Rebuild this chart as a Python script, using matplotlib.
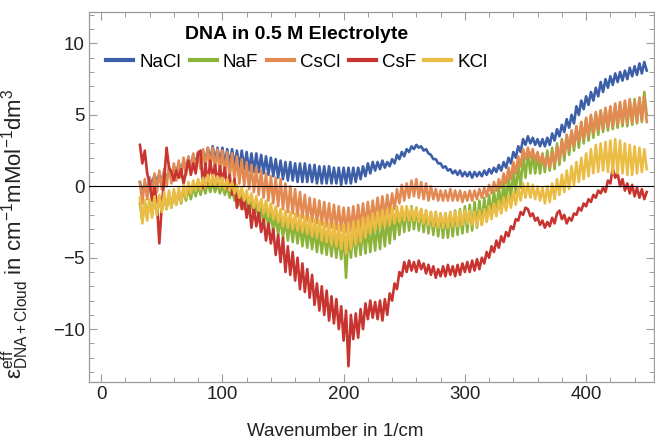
import numpy as np
import matplotlib
matplotlib.use("Agg")
import matplotlib.pyplot as plt
from matplotlib.ticker import MultipleLocator

plt.rcParams['font.family'] = ['Liberation Sans', 'DejaVu Sans']
plt.rcParams['mathtext.fontset'] = 'custom'
plt.rcParams['mathtext.rm'] = 'Liberation Sans'
plt.rcParams['mathtext.it'] = 'Liberation Sans:italic'

# wavenumber grid (1/cm)
wavenumber = np.arange(32, 451, 2)

nacl = [
    0.3, -0.5, 0.2, -0.4, 0.6, 0.1, 0.8, 0.3, 0.9, 0.4,
    1.0, 0.5, 1.2, 0.7, 1.4, 0.9, 1.6, 1.0, 1.8, 1.2,
    2.0, 1.3, 2.2, 1.5, 2.4, 1.6, 2.5, 1.7, 2.7, 1.8,
    2.8, 1.7, 2.7, 1.6, 2.7, 1.5, 2.6, 1.5, 2.6, 1.4,
    2.5, 1.3, 2.5, 1.2, 2.4, 1.1, 2.3, 1.0, 2.3, 1.0,
    2.2, 0.9, 2.1, 0.8, 2.0, 0.7, 1.9, 0.6, 1.8, 0.5,
    1.7, 0.4, 1.7, 0.4, 1.6, 0.3, 1.6, 0.3, 1.6, 0.3,
    1.5, 0.3, 1.5, 0.2, 1.4, 0.2, 1.4, 0.2, 1.4, 0.2,
    1.3, 0.2, 1.3, 0.1, 1.3, 0.2, 1.3, 0.2, 1.3, 0.3,
    1.3, 0.5, 1.4, 0.7, 1.6, 0.9, 1.7, 1.1, 1.7, 1.2,
    1.8, 1.3, 1.7, 1.4, 1.9, 1.6, 2.2, 1.9, 2.4, 2.1,
    2.6, 2.4, 2.8, 2.6, 2.9, 2.7, 2.8, 2.5, 2.6, 2.3,
    2.2, 1.9, 1.9, 1.6, 1.6, 1.3, 1.4, 1.1, 1.2, 0.9,
    1.1, 0.8, 1.1, 0.7, 1.0, 0.7, 1.0, 0.6, 1.0, 0.7,
    1.0, 0.7, 1.1, 0.8, 1.2, 0.9, 1.3, 1.0, 1.5, 1.1,
    1.7, 1.3, 2.0, 1.6, 2.4, 2.0, 2.8, 2.4, 3.3, 2.9,
    3.5, 3.0, 3.4, 2.9, 3.3, 2.8, 3.3, 2.8, 3.4, 2.9,
    3.7, 3.2, 4.0, 3.5, 4.3, 3.8, 4.7, 4.1, 5.0, 4.4,
    5.6, 5.0, 6.0, 5.4, 6.3, 5.7, 6.6, 6.0, 6.9, 6.3,
    7.3, 6.6, 7.5, 6.9, 7.7, 7.1, 7.9, 7.3, 8.0, 7.4,
    8.1, 7.5, 8.3, 7.7, 8.4, 7.8, 8.6, 7.9, 8.7, 8.1,
]

naf = [
    -1.2, -2.4, -1.0, -2.2, -0.9, -2.0, -0.8, -1.9, -0.8, -1.8,
    -0.6, -1.6, -0.5, -1.5, -0.4, -1.3, -0.3, -1.2, -0.2, -1.0,
    -0.1, -0.9, 0.0, -0.7, 0.1, -0.6, 0.2, -0.5, 0.3, -0.4,
    0.3, -0.4, 0.2, -0.5, 0.1, -0.6, 0.0, -0.8, -0.2, -1.0,
    -0.4, -1.3, -0.6, -1.6, -0.8, -1.9, -1.0, -2.2, -1.2, -2.4,
    -1.4, -2.7, -1.6, -2.9, -1.8, -3.2, -2.0, -3.4, -2.2, -3.6,
    -2.3, -3.8, -2.4, -3.9, -2.5, -4.0, -2.6, -4.2, -2.8, -4.3,
    -2.9, -4.4, -3.0, -4.6, -3.1, -4.7, -3.2, -4.8, -3.3, -4.9,
    -3.3, -5.0, -3.4, -5.1, -3.3, -6.4, -3.2, -5.0, -3.1, -4.9,
    -3.0, -4.8, -2.9, -4.7, -2.8, -4.6, -2.7, -4.5, -2.6, -4.4,
    -2.4, -4.2, -2.2, -4.0, -2.0, -3.7, -1.8, -3.4, -1.6, -3.2,
    -1.5, -3.1, -1.4, -3.0, -1.5, -3.1, -1.6, -3.2, -1.7, -3.3,
    -1.8, -3.4, -1.8, -3.5, -1.9, -3.6, -1.9, -3.6, -1.8, -3.5,
    -1.7, -3.4, -1.6, -3.3, -1.4, -3.2, -1.3, -3.1, -1.1, -2.9,
    -1.0, -2.7, -0.8, -2.4, -0.6, -2.1, -0.3, -1.8, 0.0, -1.5,
    0.3, -1.2, 0.7, -0.9, 1.1, -0.5, 1.6, -0.1, 2.2, 0.6,
    2.4, 0.9, 2.3, 0.9, 2.2, 0.9, 2.3, 1.0, 2.5, 1.1,
    2.7, 1.2, 3.0, 1.5, 3.3, 1.8, 3.6, 2.2, 3.9, 2.5,
    4.2, 2.7, 4.5, 3.0, 4.7, 3.2, 4.9, 3.4, 5.1, 3.6,
    5.3, 3.8, 5.4, 3.9, 5.5, 4.0, 5.6, 4.1, 5.8, 4.2,
    5.9, 4.2, 6.0, 4.3, 6.1, 4.4, 6.2, 4.5, 6.6, 5.0,
]

cscl = [
    0.3, -1.2, 0.5, -0.9, 0.6, -0.6, 0.9, -0.4, 1.1, -0.2,
    1.2, 0.0, 1.4, 0.2, 1.6, 0.4, 1.8, 0.6, 2.0, 0.8,
    2.1, 1.0, 2.3, 1.1, 2.4, 1.2, 2.6, 1.3, 2.7, 1.3,
    2.7, 1.2, 2.6, 1.0, 2.5, 0.8, 2.4, 0.6, 2.3, 0.4,
    2.1, 0.2, 1.9, 0.0, 1.7, -0.2, 1.5, -0.4, 1.3, -0.6,
    1.1, -0.8, 0.9, -1.0, 0.7, -1.2, 0.6, -1.4, 0.5, -1.6,
    0.2, -1.8, 0.0, -1.9, -0.2, -2.1, -0.4, -2.2, -0.6, -2.4,
    -0.8, -2.5, -0.9, -2.6, -1.0, -2.7, -1.1, -2.8, -1.2, -2.9,
    -1.3, -3.0, -1.4, -3.1, -1.5, -3.2, -1.5, -3.1, -1.4, -3.0,
    -1.3, -2.9, -1.2, -2.8, -1.1, -2.6, -1.0, -2.4, -0.8, -2.2,
    -0.7, -2.1, -0.6, -1.9, -0.5, -1.6, -0.2, -1.2, 0.1, -1.0,
    0.2, -0.8, 0.4, -0.7, 0.5, -0.8, 0.3, -0.9, 0.2, -1.0,
    0.0, -0.9, -0.2, -1.0, -0.3, -1.0, -0.3, -1.0, -0.2, -1.0,
    -0.3, -1.0, -0.3, -1.1, -0.4, -1.0, -0.3, -1.0, -0.3, -0.9,
    -0.2, -0.8, -0.1, -0.7, 0.1, -0.5, 0.3, -0.3, 0.5, -0.1,
    0.9, 0.2, 1.3, 0.5, 1.7, 0.9, 2.1, 1.4, 2.6, 1.9,
    2.7, 2.0, 2.6, 1.8, 2.4, 1.6, 2.2, 1.4, 2.1, 1.3,
    2.4, 1.5, 2.8, 1.8, 3.2, 2.2, 3.6, 2.5, 3.9, 2.8,
    4.2, 3.1, 4.5, 3.3, 4.8, 3.5, 5.0, 3.7, 5.2, 3.9,
    5.3, 4.0, 5.5, 4.1, 5.6, 4.2, 5.8, 4.3, 5.9, 4.4,
    6.0, 4.4, 6.1, 4.5, 5.9, 4.5, 6.2, 4.6, 6.3, 4.5,
]

csf = [
    2.9, 1.6, 2.5, 0.9, 0.2, -1.0, -0.1, -1.2, -4.0, -1.4,
    0.5, 2.7, 1.3, 1.0, 0.4, 1.1, 0.6, 1.2, 0.2, 1.0,
    1.8, 0.8, 1.6, 0.9, 2.3, 2.5, -0.1, 1.6, 0.2, 1.8,
    0.6, 1.5, 0.2, 1.4, 0.3, 1.3, -0.1, 0.8, -0.6, 0.5,
    -1.5, -0.4, -1.6, -0.8, -2.2, -1.2, -2.9, -1.5, -2.8, -1.8,
    -3.2, -2.3, -3.8, -2.6, -4.0, -3.0, -4.8, -3.4, -5.3, -3.6,
    -6.0, -4.2, -6.2, -4.6, -6.6, -5.0, -7.2, -5.4, -7.4, -5.8,
    -7.8, -6.2, -8.3, -6.8, -8.7, -7.0, -9.0, -7.3, -9.4, -7.7,
    -9.6, -7.9, -10.0, -8.4, -10.8, -8.7, -12.6, -9.0, -10.7, -8.9,
    -10.6, -8.6, -10.0, -8.2, -9.3, -8.0, -9.2, -8.1, -9.3, -8.0,
    -9.4, -7.9, -9.0, -7.5, -8.0, -6.8, -7.2, -6.0, -6.3, -5.3,
    -6.0, -5.2, -5.9, -5.3, -6.0, -5.2, -5.8, -5.4, -6.1, -5.5,
    -6.2, -5.6, -6.4, -5.8, -6.3, -5.6, -6.3, -5.5, -6.2, -5.6,
    -6.3, -5.5, -6.2, -5.4, -6.0, -5.3, -6.0, -5.2, -5.9, -5.1,
    -5.8, -5.0, -5.4, -4.6, -5.0, -4.2, -4.6, -3.8, -4.3, -3.5,
    -3.9, -3.2, -3.5, -2.8, -3.0, -2.3, -2.4, -1.8, -2.0, -1.5,
    -1.6, -2.1, -1.9, -2.4, -2.2, -2.7, -2.4, -2.9, -2.5, -2.8,
    -2.2, -2.6, -1.9, -1.7, -2.3, -2.0, -2.6, -2.2, -2.4, -1.9,
    -2.0, -1.5, -1.7, -1.2, -1.4, -0.9, -1.1, -0.6, -0.8, -0.3,
    -0.5, -0.1, -0.4, 0.4, 0.2, 1.3, 0.6, 0.9, 0.0, 0.5,
    -0.3, 0.2, -0.5, 0.1, -0.7, -0.1, -0.8, -0.2, -0.9, -0.4,
]

kcl = [
    -0.8, -2.6, -1.0, -2.4, -0.9, -2.2, -0.7, -2.0, -0.6, -1.8,
    -0.4, -1.6, -0.3, -1.5, -0.2, -1.3, -0.1, -1.1, 0.1, -0.8,
    0.3, -0.5, 0.4, -0.3, 0.5, -0.2, 0.6, -0.1, 0.8, 0.0,
    0.8, 0.0, 0.7, -0.1, 0.6, -0.2, 0.5, -0.3, 0.3, -0.5,
    0.1, -0.8, -0.1, -1.0, -0.3, -1.2, -0.5, -1.5, -0.7, -1.7,
    -0.9, -1.9, -1.0, -2.1, -1.2, -2.3, -1.4, -2.5, -1.6, -2.8,
    -1.7, -2.9, -1.8, -3.0, -1.9, -3.1, -2.0, -3.2, -2.1, -3.3,
    -2.2, -3.5, -2.3, -3.6, -2.4, -3.8, -2.5, -3.9, -2.6, -4.1,
    -2.6, -4.2, -2.7, -4.4, -2.7, -4.7, -2.6, -4.4, -2.5, -4.1,
    -2.4, -3.9, -2.2, -3.6, -2.1, -3.3, -1.9, -3.1, -1.8, -2.9,
    -1.7, -2.8, -1.6, -2.7, -1.5, -2.6, -1.4, -2.5, -1.4, -2.4,
    -1.4, -2.4, -1.5, -2.4, -1.5, -2.5, -1.6, -2.6, -1.7, -2.7,
    -1.8, -2.8, -1.8, -2.9, -1.9, -2.9, -1.9, -2.9, -1.8, -2.8,
    -1.8, -2.8, -1.7, -2.7, -1.7, -2.6, -1.7, -2.7, -1.8, -2.8,
    -1.7, -2.7, -1.6, -2.5, -1.4, -2.3, -1.2, -2.1, -1.0, -1.9,
    -0.8, -1.7, -0.6, -1.5, -0.4, -1.3, -0.1, -1.0, 0.2, -0.8,
    0.2, -0.8, 0.1, -0.9, 0.0, -1.0, -0.1, -1.2, 0.0, -1.1,
    0.2, -0.9, 0.5, -0.6, 0.8, -0.4, 1.1, -0.2, 1.4, 0.1,
    1.7, 0.3, 2.0, 0.5, 2.3, 0.7, 2.6, 0.9, 2.9, 1.0,
    3.0, 1.1, 3.1, 1.0, 3.2, 0.9, 3.3, 0.9, 3.2, 0.9,
    3.0, 0.8, 2.9, 0.8, 2.8, 0.9, 2.7, 1.0, 2.6, 1.2,
]

series_names = ["NaCl", "NaF", "CsCl", "CsF", "KCl"]
series_values = [nacl, naf, cscl, csf, kcl]
series_colors = ["#3c5fa8", "#8db43a", "#e38a52", "#c8342f", "#ebbd45"]

title_text = "DNA in 0.5 M Electrolyte"
x_label = "Wavenumber in 1/cm"
y_label = r"$\mathrm{\epsilon}^{\mathrm{eff}}_{\mathrm{DNA+Cloud}}$ in cm$^{-1}$mMol$^{-1}$dm$^{3}$"

fig = plt.figure(figsize=(6.55, 4.41), dpi=100)
ax = fig.add_axes([89 / 655, 59 / 441, 565 / 655, 370 / 441])

for name, vals, col in zip(series_names, series_values, series_colors):
    ax.plot(wavenumber, vals, color=col, lw=1.9, label=name, solid_joinstyle='round')

ax.axhline(0, color='black', lw=0.8, zorder=5)

ax.set_xlim(-10, 456)
ax.set_ylim(-13.7, 12.2)

ax.xaxis.set_major_locator(MultipleLocator(100))
ax.xaxis.set_minor_locator(MultipleLocator(20))
ax.yaxis.set_major_locator(MultipleLocator(5))
ax.yaxis.set_minor_locator(MultipleLocator(1))

frame_col = '#9a9a9a'
for s in ax.spines.values():
    s.set_color(frame_col)
    s.set_linewidth(0.9)
ax.tick_params(which='both', direction='in', top=True, right=True, colors=frame_col,
               labelcolor='#222222', labelsize=13.5)
ax.tick_params(which='major', length=6, width=0.8)
ax.tick_params(which='minor', length=3.5, width=0.7)
ax.tick_params(axis='x', which='major', pad=3)
ax.tick_params(axis='y', which='major', pad=3)

ax.set_xlabel(x_label, fontsize=13.5, color='#222222')
ax.xaxis.set_label_coords((335 - 89) / 565, -0.11)
ax.set_ylabel(y_label, fontsize=16, color='#222222')
ax.yaxis.set_label_coords(-0.103, 0.40)

leg = ax.legend(loc='upper center', bbox_to_anchor=(0.368, 0.963), ncol=5, frameon=False,
                fontsize=13.5, handlelength=1.45, handletextpad=0.32, columnspacing=0.45,
                borderaxespad=0, borderpad=0,
                title=title_text, title_fontproperties={'weight': 'bold', 'size': 14})
for line in leg.get_lines():
    line.set_linewidth(3)
leg._legend_box.sep = 8

fig.savefig("out.png", dpi=100)
